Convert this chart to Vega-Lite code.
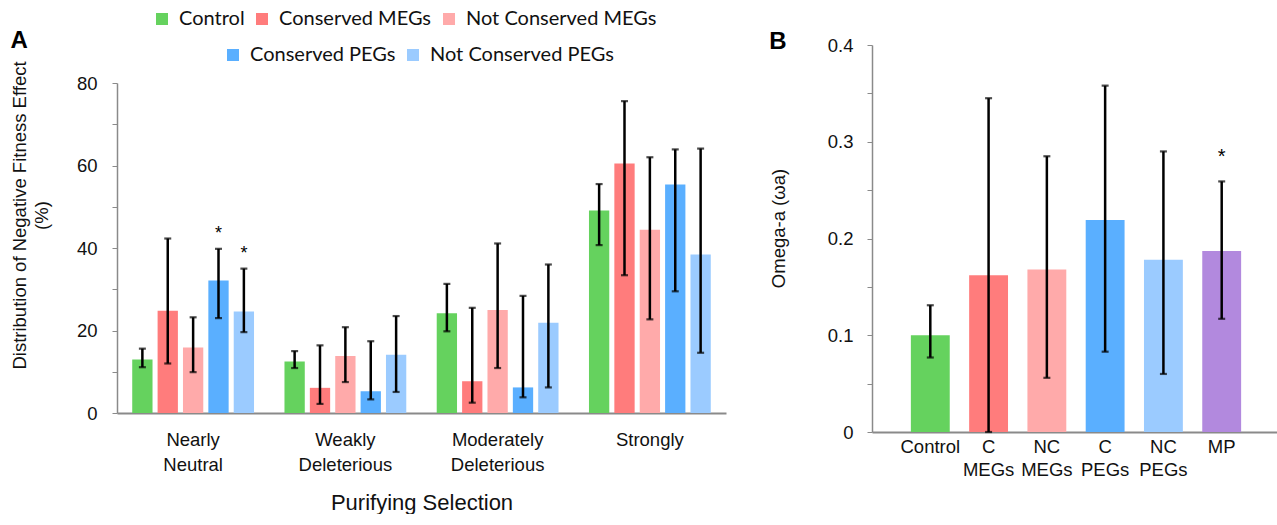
{
  "$schema": "https://vega.github.io/schema/vega-lite/v6.json",
  "padding": {"left": 10, "top": 9, "right": 0, "bottom": 0},
  "background": "white",
  "spacing": 43,
  "datasets": {
    "dfe": [
      {"sel": "Nearly Neutral", "group": "Control", "value": 13.0, "lo": 11.1, "hi": 15.6, "star": false},
      {"sel": "Nearly Neutral", "group": "Conserved MEGs", "value": 24.8, "lo": 12.0, "hi": 42.3, "star": false},
      {"sel": "Nearly Neutral", "group": "Not Conserved MEGs", "value": 15.9, "lo": 9.9, "hi": 23.2, "star": false},
      {"sel": "Nearly Neutral", "group": "Conserved PEGs", "value": 32.1, "lo": 23.0, "hi": 39.8, "star": true},
      {"sel": "Nearly Neutral", "group": "Not Conserved PEGs", "value": 24.6, "lo": 19.6, "hi": 35.0, "star": true},
      {"sel": "Weakly Deleterious", "group": "Control", "value": 12.5, "lo": 10.9, "hi": 15.0, "star": false},
      {"sel": "Weakly Deleterious", "group": "Conserved MEGs", "value": 6.1, "lo": 2.2, "hi": 16.4, "star": false},
      {"sel": "Weakly Deleterious", "group": "Not Conserved MEGs", "value": 13.8, "lo": 7.5, "hi": 20.8, "star": false},
      {"sel": "Weakly Deleterious", "group": "Conserved PEGs", "value": 5.3, "lo": 3.3, "hi": 17.4, "star": false},
      {"sel": "Weakly Deleterious", "group": "Not Conserved PEGs", "value": 14.1, "lo": 5.1, "hi": 23.5, "star": false},
      {"sel": "Moderately Deleterious", "group": "Control", "value": 24.2, "lo": 19.8, "hi": 31.3, "star": false},
      {"sel": "Moderately Deleterious", "group": "Conserved MEGs", "value": 7.7, "lo": 2.5, "hi": 25.5, "star": false},
      {"sel": "Moderately Deleterious", "group": "Not Conserved MEGs", "value": 25.0, "lo": 10.9, "hi": 41.1, "star": false},
      {"sel": "Moderately Deleterious", "group": "Conserved PEGs", "value": 6.2, "lo": 3.8, "hi": 28.4, "star": false},
      {"sel": "Moderately Deleterious", "group": "Not Conserved PEGs", "value": 21.9, "lo": 6.2, "hi": 36.0, "star": false},
      {"sel": "Strongly", "group": "Control", "value": 49.1, "lo": 40.7, "hi": 55.5, "star": false},
      {"sel": "Strongly", "group": "Conserved MEGs", "value": 60.5, "lo": 33.4, "hi": 75.6, "star": false},
      {"sel": "Strongly", "group": "Not Conserved MEGs", "value": 44.4, "lo": 22.7, "hi": 62.0, "star": false},
      {"sel": "Strongly", "group": "Conserved PEGs", "value": 55.4, "lo": 29.5, "hi": 63.9, "star": false},
      {"sel": "Strongly", "group": "Not Conserved PEGs", "value": 38.4, "lo": 14.6, "hi": 64.1, "star": false}
    ],
    "omega": [
      {"cat": "Control", "value": 0.100, "lo": 0.077, "hi": 0.131, "star": false},
      {"cat": "C MEGs", "value": 0.162, "lo": 0.0, "hi": 0.345, "star": false},
      {"cat": "NC MEGs", "value": 0.168, "lo": 0.056, "hi": 0.285, "star": false},
      {"cat": "C PEGs", "value": 0.219, "lo": 0.083, "hi": 0.358, "star": false},
      {"cat": "NC PEGs", "value": 0.178, "lo": 0.060, "hi": 0.290, "star": false},
      {"cat": "MP", "value": 0.187, "lo": 0.117, "hi": 0.259, "star": true}
    ]
  },
  "config": {
    "view": {"stroke": null},
    "axis": {
      "labelFont": "Liberation Sans", "titleFont": "Liberation Sans",
      "labelFontSize": 18.5, "titleFontSize": 18.5, "titleFontWeight": "normal",
      "labelColor": "#111111", "titleColor": "#111111",
      "domainColor": "#8a8a8a", "tickColor": "#8a8a8a", "grid": false
    },
    "title": {"font": "Liberation Sans", "fontSize": 24, "fontWeight": "bold", "anchor": "start", "frame": "bounds", "offset": 0, "color": "#000000"},
    "legend": {"labelFont": "Lato", "labelFontSize": 20, "labelColor": "#111111", "labelLimit": 500, "symbolType": "square", "symbolSize": 144, "symbolStrokeWidth": 0, "labelOffset": 7, "columnPadding": 7, "padding": 0}
  },
  "resolve": {"scale": {"color": "independent", "fill": "independent"}, "legend": {"color": "independent", "fill": "independent"}},
  "hconcat": [
    {
      "title": {"text": "A", "dy": 48},
      "width": 609,
      "height": 368,
      "data": {"name": "dfe"},
      "encoding": {
        "x": {
          "field": "sel", "type": "nominal",
          "sort": ["Nearly Neutral", "Weakly Deleterious", "Moderately Deleterious", "Strongly"],
          "scale": {"paddingInner": 0.2, "paddingOuter": 0.1},
          "axis": {"title": "Purifying Selection", "titleFontSize": 22, "titlePadding": 19, "labelAngle": 0, "ticks": false, "labelPadding": 17, "labelLineHeight": 25, "domainWidth": 2, "labelExpr": "split(datum.label, ' ')"}
        },
        "xOffset": {
          "field": "group", "type": "nominal",
          "sort": ["Control", "Conserved MEGs", "Not Conserved MEGs", "Conserved PEGs", "Not Conserved PEGs"],
          "scale": {"paddingInner": 0.2, "paddingOuter": 0}
        }
      },
      "layer": [
        {
          "mark": {"type": "bar", "opacity": 1},
          "encoding": {
            "y": {
              "field": "value", "type": "quantitative",
              "scale": {"domain": [0, 80], "range": [368, 38], "nice": false},
              "axis": {
                "title": ["Distribution of Negative Fitness Effect", "(%)"],
                "titlePadding": 25, "titleLineHeight": 22, "titleY": 170,
                "values": [0, 10, 20, 30, 40, 50, 60, 70, 80],
                "labelExpr": "datum.value % 20 === 0 ? datum.label : ''",
                "tickSize": 5, "labelPadding": 15, "domainWidth": 1.5
              }
            },
            "color": {
              "field": "group", "type": "nominal",
              "sort": ["Control", "Conserved MEGs", "Not Conserved MEGs", "Conserved PEGs", "Not Conserved PEGs"],
              "scale": {
                "domain": ["Control", "Conserved MEGs", "Not Conserved MEGs", "Conserved PEGs", "Not Conserved PEGs"],
                "range": ["#65D25E", "#FF7C7C", "#FFAAAA", "#5AAFFF", "#9BCBFF"]
              },
              "legend": {
                "title": null, "orient": "none", "legendX": 35, "legendY": -36,
                "direction": "horizontal", "columns": 3, "gridAlign": "none",
                "values": ["Control", "Conserved MEGs", "Not Conserved MEGs"]
              }
            }
          }
        },
        {
          "transform": [{"filter": "indexof(datum.group, 'PEGs') >= 0"}],
          "mark": {"type": "point", "shape": "square", "filled": true, "opacity": 0},
          "encoding": {
            "y": {"field": "value", "type": "quantitative"},
            "fill": {
              "field": "group", "type": "nominal",
              "scale": {"domain": ["Conserved PEGs", "Not Conserved PEGs"], "range": ["#5AAFFF", "#9BCBFF"]},
              "legend": {
                "title": null, "orient": "none", "legendX": 106, "legendY": 0,
                "direction": "horizontal", "columns": 2, "gridAlign": "none", "symbolOpacity": 1
              }
            }
          }
        },
        {
          "mark": {"type": "rule", "color": "#000000", "strokeWidth": 2.5},
          "encoding": {
            "y": {"field": "lo", "type": "quantitative"},
            "y2": {"field": "hi"}
          }
        },
        {
          "mark": {"type": "tick", "color": "#000000", "size": 7, "thickness": 2.2, "orient": "horizontal"},
          "encoding": {"y": {"field": "lo", "type": "quantitative"}}
        },
        {
          "mark": {"type": "tick", "color": "#000000", "size": 7, "thickness": 2.2, "orient": "horizontal"},
          "encoding": {"y": {"field": "hi", "type": "quantitative"}}
        },
        {
          "transform": [{"filter": "datum.star"}],
          "mark": {"type": "text", "text": "*", "font": "Liberation Sans", "fontSize": 18, "dy": -10, "baseline": "alphabetic", "color": "#000000"},
          "encoding": {"y": {"field": "hi", "type": "quantitative"}}
        }
      ]
    },
    {
      "title": {"text": "B", "dy": 22},
      "width": 408,
      "height": 387,
      "data": {"name": "omega"},
      "encoding": {
        "x": {
          "field": "cat", "type": "nominal",
          "sort": ["Control", "C MEGs", "NC MEGs", "C PEGs", "NC PEGs", "MP"],
          "scale": {"paddingInner": 0.333, "paddingOuter": 0.667},
          "axis": {"title": null, "labelAngle": 0, "ticks": false, "labelPadding": 5, "labelLineHeight": 23, "domainWidth": 2, "labelExpr": "split(datum.label, ' ')"}
        }
      },
      "layer": [
        {
          "mark": {"type": "bar"},
          "encoding": {
            "y": {
              "field": "value", "type": "quantitative",
              "scale": {"domain": [0, 0.4], "nice": false},
              "axis": {
                "title": "Omega-a (ωa)", "titlePadding": 39, "titleY": 183,
                "values": [0, 0.05, 0.1, 0.15, 0.2, 0.25, 0.3, 0.35, 0.4],
                "labelExpr": "round(datum.value * 100) % 10 === 0 ? format(datum.value, '~g') : ''",
                "tickSize": 5, "labelPadding": 14, "domainWidth": 1.5
              }
            },
            "color": {
              "field": "cat", "type": "nominal",
              "scale": {
                "domain": ["Control", "C MEGs", "NC MEGs", "C PEGs", "NC PEGs", "MP"],
                "range": ["#65D25E", "#FF7C7C", "#FFAAAA", "#5AAFFF", "#9BCBFF", "#B289DE"]
              },
              "legend": null
            }
          }
        },
        {
          "mark": {"type": "rule", "color": "#000000", "strokeWidth": 2.5},
          "encoding": {
            "y": {"field": "lo", "type": "quantitative"},
            "y2": {"field": "hi"}
          }
        },
        {
          "mark": {"type": "tick", "color": "#000000", "size": 7, "thickness": 2.2, "orient": "horizontal"},
          "encoding": {"y": {"field": "lo", "type": "quantitative"}}
        },
        {
          "mark": {"type": "tick", "color": "#000000", "size": 7, "thickness": 2.2, "orient": "horizontal"},
          "encoding": {"y": {"field": "hi", "type": "quantitative"}}
        },
        {
          "transform": [{"filter": "datum.star"}],
          "mark": {"type": "text", "text": "*", "font": "Liberation Sans", "fontSize": 20, "dy": -18, "baseline": "alphabetic", "color": "#000000"},
          "encoding": {"y": {"field": "hi", "type": "quantitative"}}
        }
      ]
    }
  ]
}
